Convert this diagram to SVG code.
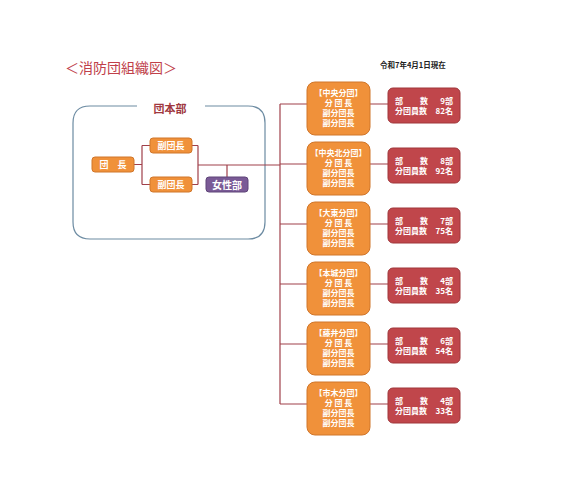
<svg xmlns="http://www.w3.org/2000/svg" width="566" height="491" viewBox="0 0 566 491">
<style>
text{font-family:"Noto Sans CJK JP","Noto Sans",sans-serif;}
.or{fill:#F0913A;stroke:#D0762A;stroke-width:1;}
.rd{fill:#C0464B;stroke:#A0363A;stroke-width:1;}
.pu{fill:#7A5A96;stroke:#5E4478;stroke-width:1;}
.wt{fill:#fff;font-size:8px;font-weight:bold;}
.ln{fill:none;stroke:#A0404A;stroke-width:1.2;}
.hq{fill:none;stroke:#6C8BA2;stroke-width:1.2;}
</style>
<rect width="566" height="491" fill="#fff"/>
<text x="65" y="73" font-size="14" fill="#C0404A">＜消防団組織図＞</text>
<text x="380" y="68" font-size="7.5" font-weight="bold" fill="#222">令和7年4月1日現在</text>

<g id="hq-frame">
<path class="hq" d="M137,106 H90 Q73,106 73,123 V222 Q73,239 90,239 H248 Q265,239 265,222 V123 Q265,106 248,106 H205"/>
<text x="170" y="113" font-size="11" font-weight="bold" fill="#A03840" text-anchor="middle">団本部</text>
</g>

<g id="connectors">
<path class="ln" d="M134,164.5 H142 M142,145.5 V184.5 M142,145.5 H150 M142,184.5 H150"/>
<path class="ln" d="M192,145.5 H198 M192,184.5 H198 M198,145.5 V184.5 M198,165 H280 M227,165 V177"/>
<path class="ln" d="M280,104 V404"/>
<path class="ln" d="M280,104 H307 M280,164 H307 M280,224 H307 M280,284 H307 M280,344 H307 M280,404 H307"/>
<path class="ln" d="M370,104 H388 M370,164 H388 M370,224 H388 M370,284 H388 M370,344 H388 M370,404 H388"/>
</g>

<g id="danchou"><rect class="or" x="92" y="157" width="42" height="15" rx="3"/><text class="wt" x="113" y="168" font-size="9" text-anchor="middle" style="font-size:9px">団　長</text></g>
<g id="fukudanchou1"><rect class="or" x="150" y="138" width="42" height="15" rx="3"/><text class="wt" x="171" y="149" text-anchor="middle" style="font-size:9px">副団長</text></g>
<g id="fukudanchou2"><rect class="or" x="150" y="177" width="42" height="15" rx="3"/><text class="wt" x="171" y="188" text-anchor="middle" style="font-size:9px">副団長</text></g>
<g id="joseibu"><rect class="pu" x="206" y="177" width="42" height="15" rx="3"/><text class="wt" x="227" y="188.5" text-anchor="middle" style="font-size:10px">女性部</text></g>

<g id="b1"><rect class="or" x="307" y="82" width="63" height="53" rx="8"/>
<text class="wt" x="338.5" text-anchor="middle"><tspan x="338.5" y="96">【中央分団】</tspan><tspan x="338.5" y="106">分 団 長</tspan><tspan x="338.5" y="116">副分団長</tspan><tspan x="338.5" y="126">副分団長</tspan></text></g>
<g id="s1"><rect class="rd" x="388" y="88" width="72" height="35" rx="5"/>
<text class="wt" x="395" y="104">部</text><text class="wt" x="420" y="104">数</text><text class="wt" x="453" y="104" text-anchor="end">9部</text>
<text class="wt" x="395" y="114">分団員数</text><text class="wt" x="453" y="114" text-anchor="end">82名</text></g>

<g id="b2"><rect class="or" x="307" y="142" width="63" height="53" rx="8"/>
<text class="wt" text-anchor="middle"><tspan x="338.5" y="156">【中央北分団】</tspan><tspan x="338.5" y="166">分 団 長</tspan><tspan x="338.5" y="176">副分団長</tspan><tspan x="338.5" y="186">副分団長</tspan></text></g>
<g id="s2"><rect class="rd" x="388" y="148" width="72" height="35" rx="5"/>
<text class="wt" x="395" y="164">部</text><text class="wt" x="420" y="164">数</text><text class="wt" x="453" y="164" text-anchor="end">8部</text>
<text class="wt" x="395" y="174">分団員数</text><text class="wt" x="453" y="174" text-anchor="end">92名</text></g>

<g id="b3"><rect class="or" x="307" y="202" width="63" height="53" rx="8"/>
<text class="wt" text-anchor="middle"><tspan x="338.5" y="216">【大東分団】</tspan><tspan x="338.5" y="226">分 団 長</tspan><tspan x="338.5" y="236">副分団長</tspan><tspan x="338.5" y="246">副分団長</tspan></text></g>
<g id="s3"><rect class="rd" x="388" y="208" width="72" height="35" rx="5"/>
<text class="wt" x="395" y="224">部</text><text class="wt" x="420" y="224">数</text><text class="wt" x="453" y="224" text-anchor="end">7部</text>
<text class="wt" x="395" y="234">分団員数</text><text class="wt" x="453" y="234" text-anchor="end">75名</text></g>

<g id="b4"><rect class="or" x="307" y="262" width="63" height="53" rx="8"/>
<text class="wt" text-anchor="middle"><tspan x="338.5" y="276">【本城分団】</tspan><tspan x="338.5" y="286">分 団 長</tspan><tspan x="338.5" y="296">副分団長</tspan><tspan x="338.5" y="306">副分団長</tspan></text></g>
<g id="s4"><rect class="rd" x="388" y="268" width="72" height="35" rx="5"/>
<text class="wt" x="395" y="284">部</text><text class="wt" x="420" y="284">数</text><text class="wt" x="453" y="284" text-anchor="end">4部</text>
<text class="wt" x="395" y="294">分団員数</text><text class="wt" x="453" y="294" text-anchor="end">35名</text></g>

<g id="b5"><rect class="or" x="307" y="322" width="63" height="53" rx="8"/>
<text class="wt" text-anchor="middle"><tspan x="338.5" y="336">【藤井分団】</tspan><tspan x="338.5" y="346">分 団 長</tspan><tspan x="338.5" y="356">副分団長</tspan><tspan x="338.5" y="366">副分団長</tspan></text></g>
<g id="s5"><rect class="rd" x="388" y="328" width="72" height="35" rx="5"/>
<text class="wt" x="395" y="344">部</text><text class="wt" x="420" y="344">数</text><text class="wt" x="453" y="344" text-anchor="end">6部</text>
<text class="wt" x="395" y="354">分団員数</text><text class="wt" x="453" y="354" text-anchor="end">54名</text></g>

<g id="b6"><rect class="or" x="307" y="382" width="63" height="53" rx="8"/>
<text class="wt" text-anchor="middle"><tspan x="338.5" y="396">【市木分団】</tspan><tspan x="338.5" y="406">分 団 長</tspan><tspan x="338.5" y="416">副分団長</tspan><tspan x="338.5" y="426">副分団長</tspan></text></g>
<g id="s6"><rect class="rd" x="388" y="388" width="72" height="35" rx="5"/>
<text class="wt" x="395" y="404">部</text><text class="wt" x="420" y="404">数</text><text class="wt" x="453" y="404" text-anchor="end">4部</text>
<text class="wt" x="395" y="414">分団員数</text><text class="wt" x="453" y="414" text-anchor="end">33名</text></g>
</svg>
